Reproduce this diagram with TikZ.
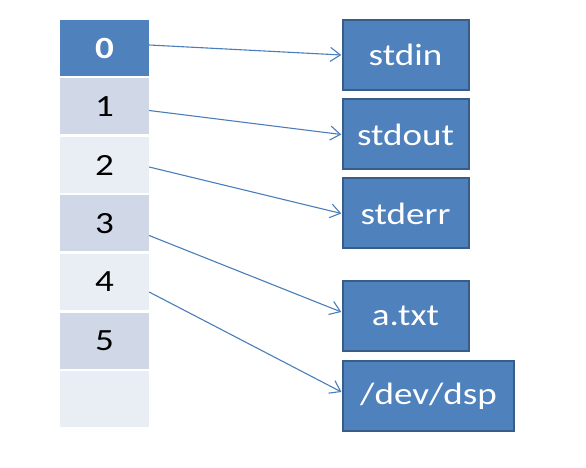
\documentclass[tikz,border=0pt]{standalone}
\usepackage{fontspec}
\setmainfont{Carlito}
\usetikzlibrary{arrows.meta}
\definecolor{hdblue}{HTML}{4F81BD}
\definecolor{hdline}{HTML}{385D8A}
\definecolor{bandA}{HTML}{D0D8E8}
\definecolor{bandB}{HTML}{E9EDF4}
\definecolor{linkblue}{HTML}{4A7EBB}
\begin{document}
\begin{tikzpicture}[x=1bp,y=-1bp,
	fdcell/.style={minimum width=74bp, minimum height=56bp, inner sep=0pt,
		font=\fontsize{31}{33}\selectfont, xscale=1.2},
	filebox/.style={fill=hdblue, draw=hdline, line width=2bp, minimum height=70bp,
		inner sep=0pt, text=white, font=\fontsize{31}{33}\selectfont, xscale=1.2},
	link/.style={draw=linkblue, line width=1.1bp, -{Straight Barb[length=10bp,width=14bp]}}]
		\fill[white] (0,0) rectangle (586,468);
		
		% descriptor table
		\node[fdcell, fill=hdblue, text=white] (c0) at (104.5,48) {\bfseries 0};
		\foreach \i in {1,...,6}{
			\pgfmathsetmacro{\cy}{48+58.5*\i}
			\ifodd\i \def\band{bandA}\else \def\band{bandB}\fi
			\ifnum\i<6
			\node[fdcell, fill=\band] (c\i) at (104.5,\cy) {\i};
			\else
			\node[fdcell, fill=\band] (c\i) at (104.5,\cy) {};
			\fi
		}
		
		% open files
		\node[filebox, minimum width=105bp] (stdin) at (405.5,55) {stdin};
		\node[filebox, minimum width=105bp] (stdout) at (405.5,134.5) {stdout};
		\node[filebox, minimum width=105bp] (stderr) at (405.5,213.5) {stderr};
		\node[filebox, minimum width=105bp] (atxt) at (405.5,316) {a.txt};
		\node[filebox, minimum width=143bp] (dsp) at (428.5,396) {/dev/dsp};
		
		\draw[link] ([yshift=3bp]c0.east) -- (stdin.west);
		\draw[link] ([yshift=-4bp]c1.east) -- (stdout.west);
		\draw[link] ([yshift=-2bp]c2.east) -- (stderr.west);
		\draw[link] ([yshift=-12bp]c3.east) -- ([yshift=4bp]atxt.west);
		\draw[link] ([yshift=-10bp]c4.east) -- ([yshift=4bp]dsp.west);
\end{tikzpicture}
\end{document}
